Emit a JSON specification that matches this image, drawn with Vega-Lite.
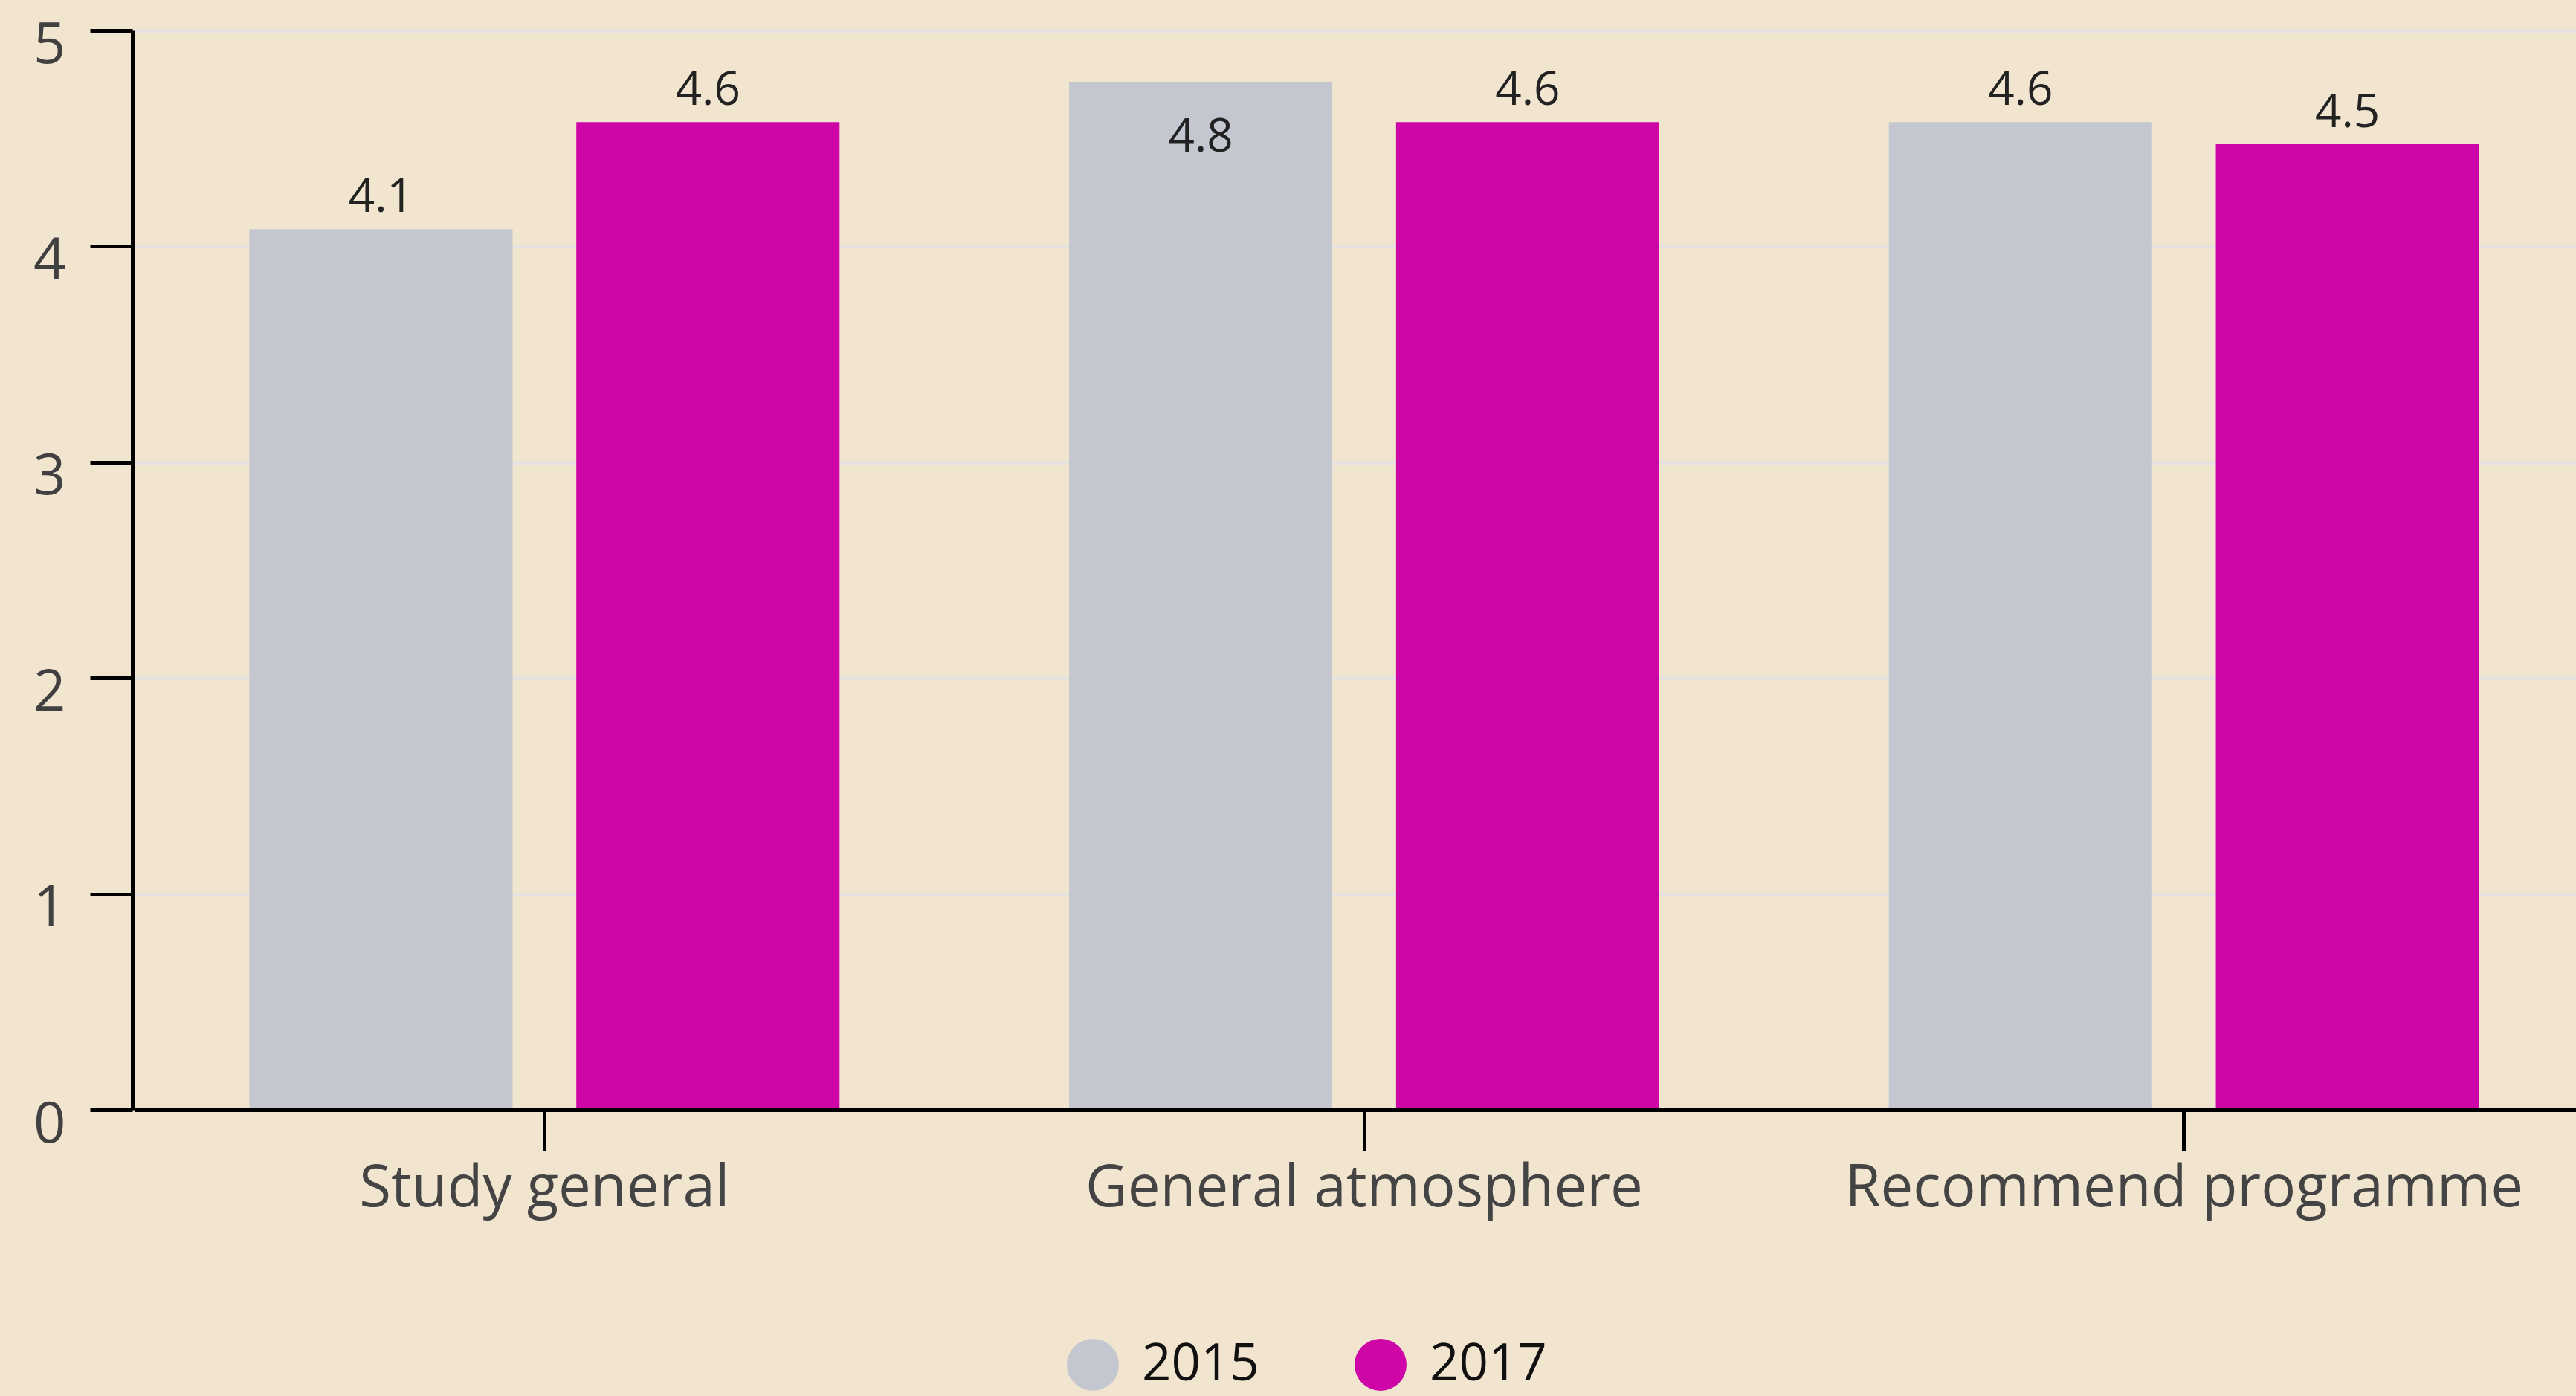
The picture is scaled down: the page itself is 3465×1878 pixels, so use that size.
{
  "$schema": "https://vega.github.io/schema/vega-lite/v6.json",
  "width": 3287,
  "height": 1452,
  "autosize": {"type": "none"},
  "padding": {"left": 178, "top": 41, "right": 0, "bottom": 385},
  "background": "#F1E5D0",
  "config": {"view": {"stroke": null}, "font": "Open Sans"},
  "data": {
    "values": [
      {"category": "Study general", "year": "2015", "value": 4.08},
      {"category": "Study general", "year": "2017", "value": 4.576},
      {"category": "General atmosphere", "year": "2015", "value": 4.762},
      {"category": "General atmosphere", "year": "2017", "value": 4.576},
      {"category": "Recommend programme", "year": "2015", "value": 4.576},
      {"category": "Recommend programme", "year": "2017", "value": 4.473}
    ]
  },
  "encoding": {
    "x": {
      "field": "category",
      "type": "nominal",
      "sort": ["Study general", "General atmosphere", "Recommend programme"],
      "scale": {"range": [3, 3311], "paddingInner": 0.28, "paddingOuter": 0.14},
      "axis": {
        "title": null,
        "labelAngle": 0,
        "labelLimit": 0,
        "labelFontSize": 78,
        "labelColor": "#444444",
        "labelPadding": 12,
        "domainColor": "#000000",
        "domainWidth": 5,
        "tickColor": "#000000",
        "tickWidth": 5,
        "tickSize": 55,
        "grid": false,
        "zindex": 1
      }
    },
    "xOffset": {
      "field": "year",
      "type": "nominal",
      "scale": {"paddingInner": 0.195, "paddingOuter": 0}
    },
    "y": {
      "field": "value",
      "type": "quantitative",
      "scale": {"domain": [0, 5], "nice": false},
      "axis": {
        "title": null,
        "values": [0, 1, 2, 3, 4, 5],
        "labelFontSize": 76,
        "labelColor": "#404040",
        "labelPadding": 33,
        "labelOffset": 20,
        "domainColor": "#000000",
        "domainWidth": 5,
        "tickColor": "#000000",
        "tickWidth": 5,
        "tickSize": 57,
        "gridColor": "#E6E3DE",
        "gridWidth": 5
      }
    }
  },
  "layer": [
    {
      "mark": {"type": "bar"},
      "encoding": {
        "color": {
          "field": "year",
          "type": "nominal",
          "scale": {"domain": ["2015", "2017"], "range": ["#C4C7CF", "#CE06A8"]},
          "legend": {
            "orient": "none",
            "legendX": 1257,
            "legendY": 1760,
            "direction": "horizontal",
            "title": null,
            "symbolType": "circle",
            "symbolSize": 4900,
            "symbolStrokeWidth": 0,
            "labelFontSize": 69,
            "labelColor": "#111111",
            "labelOffset": 31,
            "columnPadding": 128
          }
        }
      }
    },
    {
      "transform": [{"filter": "datum.value < 4.7"}],
      "mark": {"type": "text", "baseline": "middle", "dy": -42, "fontSize": 62, "color": "#222222"},
      "encoding": {"text": {"field": "value", "type": "quantitative", "format": ".1f"}}
    },
    {
      "transform": [{"filter": "datum.value >= 4.7"}],
      "mark": {"type": "text", "baseline": "middle", "dy": 75, "fontSize": 62, "color": "#222222"},
      "encoding": {"text": {"field": "value", "type": "quantitative", "format": ".1f"}}
    }
  ]
}
